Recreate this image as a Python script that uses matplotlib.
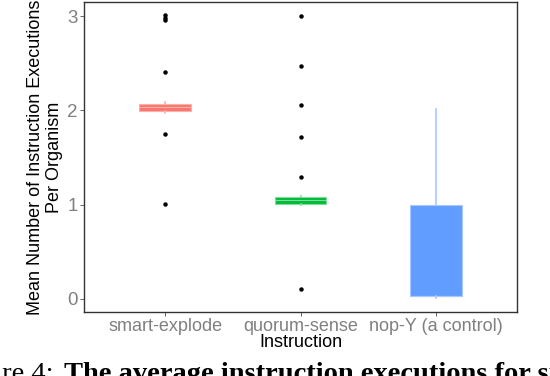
import matplotlib
matplotlib.use("Agg")
import matplotlib.pyplot as plt

plt.rcParams['font.family'] = ['Liberation Sans', 'DejaVu Sans']

# box statistics
categories = ["smart-explode", "quorum-sense", "nop-Y (a control)"]
q1 = [1.99, 1.01, 0.03]
med = [2.04, 1.05, 0.03]
q3 = [2.07, 1.08, 1.00]
whislo = [1.97, 1.00, 0.01]
whishi = [2.09, 1.09, 2.01]
fliers = [
    [3.01, 2.98, 2.96, 2.41, 1.75, 1.01],
    [3.00, 2.47, 2.06, 1.72, 1.29, 0.10],
    [],
]
fills = ["#F8766D", "#00BA38", "#619CFF"]
lines = ["#FBB0AA", "#7FDC9B", "#A9C8FF"]

W, H = 550, 376
fig = plt.figure(figsize=(W / 100, H / 100), dpi=100)
ax = fig.add_axes([84 / W, (376 - 312) / H, 433 / W, 310 / H])

stats = []
for i, name in enumerate(categories):
    stats.append(dict(label=name, q1=q1[i], med=med[i], q3=q3[i],
                      whislo=whislo[i], whishi=whishi[i], fliers=fliers[i]))

for i, s in enumerate(stats):
    ax.bxp([s], positions=[i + 1], widths=0.38, patch_artist=True,
           showcaps=False,
           boxprops=dict(facecolor=fills[i], edgecolor=lines[i], linewidth=0.8),
           whiskerprops=dict(color=lines[i], linewidth=1.2),
           medianprops=dict(color=lines[i], linewidth=0.8),
           flierprops=dict(marker='o', markersize=2.2, markerfacecolor='black',
                           markeredgecolor='black'))

ax.set_xlim(0.4, 3.6)
ax.set_ylim(-0.14, 3.15)
ax.set_yticks([0, 1, 2, 3])
ax.set_xticks([1, 2, 3])
ax.set_xticklabels(categories)
ax.tick_params(colors='#4d4d4d', labelcolor='#808080', labelsize=13,
               length=3, width=0.6, pad=1.5)
ax.tick_params(axis='y', labelsize=13.5)
for sp in ax.spines.values():
    sp.set_color('#333333')
    sp.set_linewidth(1.0)

ax.set_xlabel("Instruction", fontsize=13, labelpad=-1)
ax.set_ylabel("Mean Number of Instruction Executions\nPer Organism",
              fontsize=13, labelpad=3, linespacing=1.15)

# cut-off figure caption below the plot
fig.text(53 / W, -5 / H, "Figure 4:", family='Liberation Serif',
         fontsize=20.5, ha='right', va='baseline')
fig.text(64 / W, -5 / H, "The average instruction executions for smart-explode",
         family='Liberation Serif', fontweight='bold', fontsize=20.5,
         ha='left', va='baseline')

fig.savefig("out.png", dpi=100)
